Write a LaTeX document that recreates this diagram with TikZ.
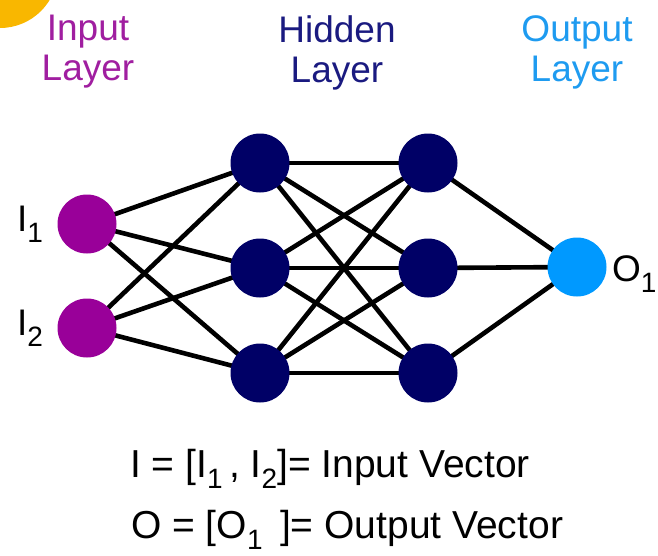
\documentclass[tikz,border=0pt]{standalone}
\usepackage{fontspec}
\setmainfont{Liberation Sans}
\usetikzlibrary{backgrounds}
\definecolor{inpurple}{HTML}{990099}
\definecolor{hidnavy}{HTML}{000066}
\definecolor{outblue}{HTML}{0099FF}
\definecolor{intext}{HTML}{A01EA0}
\definecolor{hidtext}{HTML}{1A1A80}
\definecolor{outtext}{HTML}{1E9BF0}
\definecolor{sunyellow}{HTML}{F9B700}
\newcommand\lsub[1]{\raisebox{-0.3em}{\fontsize{28}{28}\selectfont #1}}
\begin{document}
\begin{tikzpicture}[x=1pt,y=-1pt,
  neuron/.style={circle, minimum size=59pt, inner sep=0pt},
  inneuron/.style={neuron, fill=inpurple},
  hidneuron/.style={neuron, fill=hidnavy},
  outneuron/.style={neuron, fill=outblue},
  conn/.style={line width=4.6pt, black},
  lbl/.style={font=\fontsize{37}{40}\selectfont, inner sep=0pt},
  vec/.style={font=\fontsize{39}{40}\selectfont, inner sep=0pt, anchor=base west},
  title/.style={lbl, align=center, anchor=north}]
\useasboundingbox (0,0) rectangle (658,555);
\fill[sunyellow] (0,-30) circle (58);
% neurons
\node[inneuron] (i1) at (87,224) {};
\node[inneuron] (i2) at (87,328) {};
\node[hidneuron] (h1) at (260,163) {};
\node[hidneuron] (h2) at (260,268) {};
\node[hidneuron] (h3) at (260,373) {};
\node[hidneuron] (g1) at (428,163) {};
\node[hidneuron] (g2) at (428,268) {};
\node[hidneuron] (g3) at (428,373) {};
\node[outneuron] (o1) at (577,267) {};
% connections
\begin{scope}[on background layer]
\foreach \a in {i1,i2}{\foreach \b in {h1,h2,h3}{\draw[conn] (\a.center) -- (\b.center);}}
\foreach \a in {h1,h2,h3}{\foreach \b in {g1,g2,g3}{\draw[conn] (\a.center) -- (\b.center);}}
\foreach \a in {g1,g2,g3}{\draw[conn] (\a.center) -- (o1.center);}
\end{scope}
% labels
\node[lbl, anchor=base west] (li1) at (17,231) {I\lsub{1}};
\node[lbl, anchor=base west] (li2) at (17,335) {I\lsub{2}};
\node[lbl, anchor=base west] (lo1) at (612,281) {O\lsub{1}};
\node[title, text=intext] (tin) at (88,15) {Input\\Layer};
\node[title, text=hidtext] (thid) at (337,15) {Hidden\\Layer};
\node[title, text=outtext] (tout) at (577,15) {Output\\Layer};
\node[vec] (vin) at (130,477) {I = [I\lsub{1}\,, I\lsub{2}]= Input Vector};
\node[vec] (vout) at (131,538) {O = [O\lsub{1}\, ]= Output Vector};
\end{tikzpicture}
\end{document}
